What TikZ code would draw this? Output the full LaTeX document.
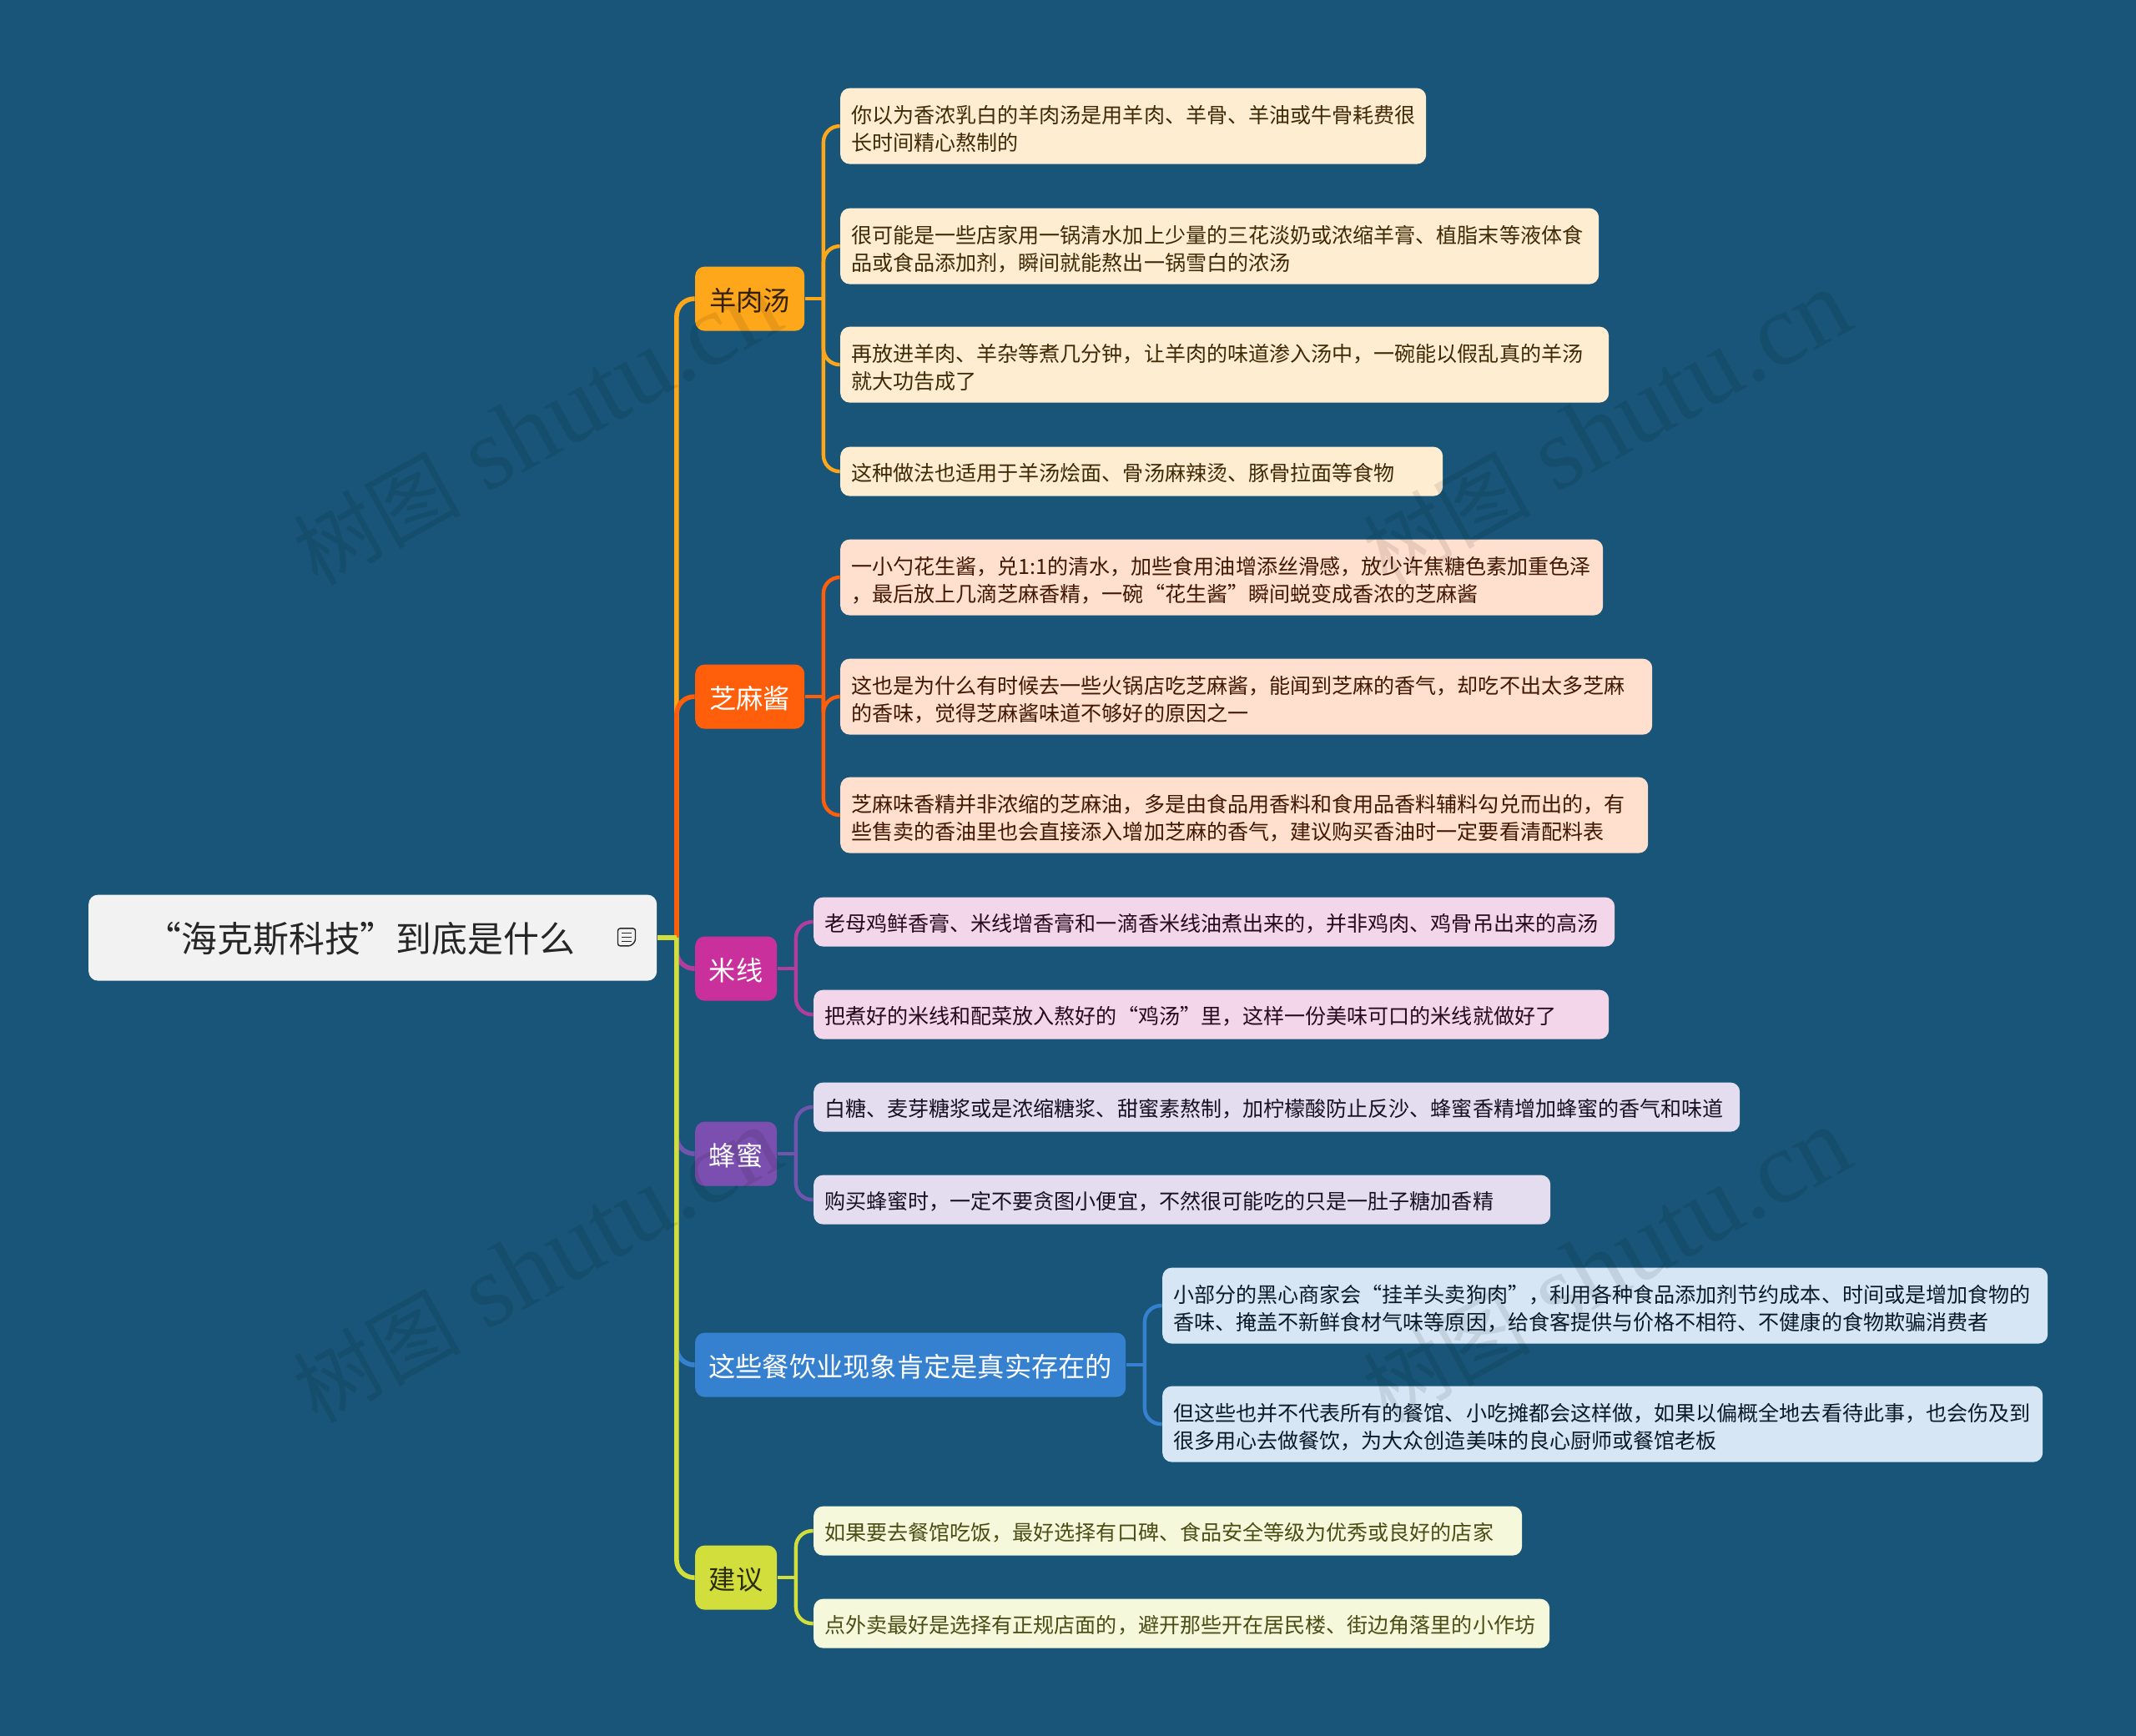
\documentclass[tikz,border=0pt]{standalone}
\usepackage{fontspec}
\setmainfont{Noto Sans CJK SC}
\newfontfamily\latinserif{Liberation Serif}
\usetikzlibrary{positioning}
\definecolor{bgblue}{HTML}{185578}
\definecolor{cyang}{HTML}{FFA71A}
\definecolor{czhima}{HTML}{FF5F0A}
\definecolor{cmi}{HTML}{C9309B}
\definecolor{cmiline}{HTML}{B13E9C}
\definecolor{cfeng}{HTML}{7B4FAF}
\definecolor{cfengline}{HTML}{6F55AE}
\definecolor{czhen}{HTML}{3581CF}
\definecolor{cjian}{HTML}{D2DE3C}
\definecolor{lyang}{HTML}{FFEDD1}
\definecolor{lzhima}{HTML}{FFDFCE}
\definecolor{lmi}{HTML}{F4D6EB}
\definecolor{lfeng}{HTML}{E4DDEF}
\definecolor{lzhen}{HTML}{D6E6F5}
\definecolor{ljian}{HTML}{F6F8DC}
\newcommand{\wmtext}{{\rmfamily\fontsize{28.5}{30}\selectfont 树图} shutu.cn}
\tikzset{
  rootbox/.style={fill=black!5,rounded corners=3.2pt,anchor=north west,inner sep=0pt,minimum height=1.03cm,minimum width=6.81cm},
  branch/.style={rounded corners=3.2pt,anchor=north west,inner sep=0pt,minimum height=0.77cm,text height=9.5pt,text depth=1.5pt,font=\fontsize{9.17}{11}\selectfont},
  leaf/.style={rounded corners=3.2pt,anchor=north west,inner xsep=0.13cm,inner ysep=0pt,minimum height=0.59cm,align=left,text height=7.4pt,text depth=1pt,font=\fontsize{7.13}{9.4}\selectfont},
  tall/.style={minimum height=0.91cm,text depth=9.3pt},
  mainlink/.style={line width=1.6pt,rounded corners=6pt},
  sublink/.style={line width=1.25pt,rounded corners=5.5pt},
  wmark/.style={rotate=29,black,text opacity=0.09,inner sep=0pt,font=\latinserif\fontsize{35}{35}\selectfont}
}
\begin{document}
\begin{tikzpicture}
    \useasboundingbox (0.005,-0.011) rectangle (25.605,-20.821);
    \fill[bgblue] (0,0.1) rectangle (25.7,-20.9);

    \node[rootbox] (root) at (1.06,-10.73) {};
    \node[anchor=west,inner sep=0pt,font=\fontsize{12.2}{15}\selectfont,text=black!85] (roottext) at (1.745,-11.26) {“海克斯科技”到底是什么};
    \coordinate[right=0.23cm of root] (trunk);

    \node[branch,fill=cyang,text=black!80!cyang,minimum width=1.31cm] (yang) at (8.33,-3.20) {羊肉汤};
    \node[branch,fill=czhima,text=white,minimum width=1.31cm] (zhima) at (8.33,-7.97) {芝麻酱};
    \node[branch,fill=cmi,text=white,minimum width=0.98cm] (mi) at (8.33,-11.23) {米线};
    \node[branch,fill=cfeng,text=white,minimum width=0.98cm] (feng) at (8.33,-13.45) {蜂蜜};
    \node[branch,fill=czhen,text=white,minimum width=5.16cm] (zhen) at (8.33,-15.98) {这些餐饮业现象肯定是真实存在的};
    \node[branch,fill=cjian,text=black!80!cjian,minimum width=0.98cm] (jian) at (8.33,-18.53) {建议};

    \node[leaf,tall,fill=lyang,text=black!75!cyang,text width=6.76cm] (yang1) at (10.07,-1.06) {你以为香浓乳白的羊肉汤是用羊肉、羊骨、羊油或牛骨耗费很\\长时间精心熬制的};
    \node[leaf,tall,fill=lyang,text=black!75!cyang,text width=8.83cm] (yang2) at (10.07,-2.50) {很可能是一些店家用一锅清水加上少量的三花淡奶或浓缩羊膏、植脂末等液体食\\品或食品添加剂，瞬间就能熬出一锅雪白的浓汤};
    \node[leaf,tall,fill=lyang,text=black!75!cyang,text width=8.95cm] (yang3) at (10.07,-3.92) {再放进羊肉、羊杂等煮几分钟，让羊肉的味道渗入汤中，一碗能以假乱真的羊汤\\就大功告成了};
    \node[leaf,fill=lyang,text=black!75!cyang,text width=6.96cm] (yang4) at (10.07,-5.36) {这种做法也适用于羊汤烩面、骨汤麻辣烫、豚骨拉面等食物};

    \node[leaf,tall,fill=lzhima,text=black!75!czhima,text width=8.88cm] (zhima1) at (10.07,-6.47) {一小勺花生酱，兑1:1的清水，加些食用油增添丝滑感，放少许焦糖色素加重色泽\\，最后放上几滴芝麻香精，一碗“花生酱”瞬间蜕变成香浓的芝麻酱};
    \node[leaf,tall,fill=lzhima,text=black!75!czhima,text width=9.47cm] (zhima2) at (10.07,-7.90) {这也是为什么有时候去一些火锅店吃芝麻酱，能闻到芝麻的香气，却吃不出太多芝麻\\的香味，觉得芝麻酱味道不够好的原因之一};
    \node[leaf,tall,fill=lzhima,text=black!75!czhima,text width=9.42cm] (zhima3) at (10.07,-9.32) {芝麻味香精并非浓缩的芝麻油，多是由食品用香料和食用品香料辅料勾兑而出的，有\\些售卖的香油里也会直接添入增加芝麻的香气，建议购买香油时一定要看清配料表};

    \node[leaf,fill=lmi,text=black!80!cmi,text width=9.34cm] (mi1) at (9.75,-10.76) {老母鸡鲜香膏、米线增香膏和一滴香米线油煮出来的，并非鸡肉、鸡骨吊出来的高汤};
    \node[leaf,fill=lmi,text=black!80!cmi,text width=9.27cm] (mi2) at (9.75,-11.87) {把煮好的米线和配菜放入熬好的“鸡汤”里，这样一份美味可口的米线就做好了};

    \node[leaf,fill=lfeng,text=black!80!cfeng,text width=10.84cm] (feng1) at (9.75,-12.98) {白糖、麦芽糖浆或是浓缩糖浆、甜蜜素熬制，加柠檬酸防止反沙、蜂蜜香精增加蜂蜜的香气和味道};
    \node[leaf,fill=lfeng,text=black!80!cfeng,text width=8.57cm] (feng2) at (9.75,-14.09) {购买蜂蜜时，一定不要贪图小便宜，不然很可能吃的只是一肚子糖加香精};

    \node[leaf,tall,fill=lzhen,text=black!80!czhen,text width=10.35cm] (zhen1) at (13.93,-15.20) {小部分的黑心商家会“挂羊头卖狗肉”，利用各种食品添加剂节约成本、时间或是增加食物的\\香味、掩盖不新鲜食材气味等原因，给食客提供与价格不相符、不健康的食物欺骗消费者};
    \node[leaf,tall,fill=lzhen,text=black!80!czhen,text width=10.29cm] (zhen2) at (13.93,-16.62) {但这些也并不代表所有的餐馆、小吃摊都会这样做，如果以偏概全地去看待此事，也会伤及到\\很多用心去做餐饮，为大众创造美味的良心厨师或餐馆老板};

    \node[leaf,fill=ljian,text=black!65!cjian,text width=8.23cm] (jian1) at (9.75,-18.06) {如果要去餐馆吃饭，最好选择有口碑、食品安全等级为优秀或良好的店家};
    \node[leaf,fill=ljian,text=black!65!cjian,text width=8.56cm] (jian2) at (9.75,-19.17) {点外卖最好是选择有正规店面的，避开那些开在居民楼、街边角落里的小作坊};

    \draw[mainlink,cyang] (trunk) |- (yang.west);
    \draw[mainlink,czhima] (trunk) |- (zhima.west);
    \draw[mainlink,cmiline] (trunk) |- (mi.west);
    \draw[mainlink,cfengline] (trunk) |- (feng.west);
    \draw[mainlink,czhen] (trunk) |- (zhen.west);
    \draw[mainlink,cjian] (trunk) |- (jian.west);
    \draw[mainlink,cjian] (root.east) -- (trunk);

    \coordinate[right=0.22cm of yang] (yangj);
    \coordinate[right=0.22cm of zhima] (zhimaj);
    \coordinate[right=0.22cm of mi] (mij);
    \coordinate[right=0.22cm of feng] (fengj);
    \coordinate[right=0.22cm of zhen] (zhenj);
    \coordinate[right=0.22cm of jian] (jianj);

    \draw[sublink,cyang] (yang.east) -- (yangj);
    \foreach \n in {yang1,yang2,yang3,yang4} { \draw[sublink,cyang] (yangj) |- (\n.west); }
    \draw[sublink,czhima] (zhima.east) -- (zhimaj);
    \foreach \n in {zhima1,zhima2,zhima3} { \draw[sublink,czhima] (zhimaj) |- (\n.west); }
    \draw[sublink,cmiline] (mi.east) -- (mij);
    \foreach \n in {mi1,mi2} { \draw[sublink,cmiline] (mij) |- (\n.west); }
    \draw[sublink,cfengline] (feng.east) -- (fengj);
    \foreach \n in {feng1,feng2} { \draw[sublink,cfengline] (fengj) |- (\n.west); }
    \draw[sublink,czhen] (zhen.east) -- (zhenj);
    \foreach \n in {zhen1,zhen2} { \draw[sublink,czhen] (zhenj) |- (\n.west); }
    \draw[sublink,cjian] (jian.east) -- (jianj);
    \foreach \n in {jian1,jian2} { \draw[sublink,cjian] (jianj) |- (\n.west); }

    \draw[black!85,line width=0.4pt,rounded corners=0.8pt,shift={(7.515,-11.245)}] (-0.105,0.105) -- (0.105,0.105) -- (0.105,-0.05) -- (0.05,-0.105) -- (-0.105,-0.105) -- cycle;
    \draw[black!85,line width=0.4pt,shift={(7.515,-11.245)}] (-0.06,0.05) -- (0.06,0.05) (-0.06,0) -- (0.06,0) (-0.06,-0.05) -- (0.06,-0.05);

    \node[wmark] (mark1) at (6.44,-5.15) {\wmtext};
    \node[wmark] (mark2) at (19.26,-5.15) {\wmtext};
    \node[wmark] (mark3) at (6.44,-15.19) {\wmtext};
    \node[wmark] (mark4) at (19.26,-15.19) {\wmtext};
\end{tikzpicture}
\end{document}
